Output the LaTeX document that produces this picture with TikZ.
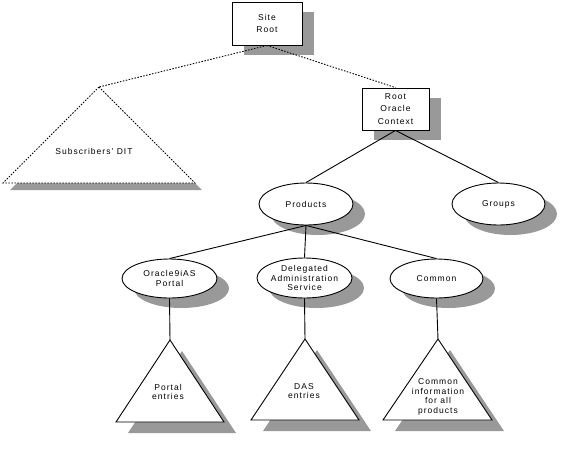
\documentclass[tikz,border=0pt]{standalone}
\usepackage{fontspec}
\setmainfont{Liberation Sans}[LetterSpace=12]
\usetikzlibrary{shapes.geometric,shadows}
\definecolor{shd}{HTML}{999999}
\begin{document}
\begin{tikzpicture}[x=1pt,y=-1pt,
  lbl/.style={font=\fontsize{8.5}{9.5}\selectfont, align=center, inner sep=0pt},
  shad/.style={drop shadow={shadow xshift=12pt, shadow yshift=-10pt, opacity=1, fill=shd}},
  boxnode/.style={draw, fill=white, line width=0.9pt, rectangle, align=center, inner sep=0pt,
     font=\fontsize{8.5}{12.5}\selectfont, shad},
  ellnode/.style={draw, fill=white, line width=0.9pt, ellipse, align=center, inner sep=0pt,
     font=\fontsize{8.5}{9.5}\selectfont, shad},
  ln/.style={line width=0.9pt},
  dl/.style={line width=0.9pt, dash pattern=on 1.5pt off 1.5pt},
  ]
\useasboundingbox[fill=white] (0,0) rectangle (573,448);

% triangle shadows
\fill[shd] (106,94) -- (202,190) -- (10,190) -- cycle;
\fill[shd] (182,351) -- (236,433) -- (128,433) -- cycle;
\fill[shd] (317,350) -- (371,431) -- (263,431) -- cycle;
\fill[shd] (450,350) -- (504,431) -- (395,431) -- cycle;

% triangles
\coordinate (subtop) at (99,87);
\coordinate (ptop) at (170,340);
\coordinate (dtop) at (305,339);
\coordinate (ctop) at (438,339);
\draw[dl, fill=white] (subtop) -- (195,183) -- (3,183) -- cycle;
\draw[ln, fill=white] (ptop) -- (224,422) -- (116,422) -- cycle;
\draw[ln, fill=white] (dtop) -- (359,420) -- (251,420) -- cycle;
\draw[ln, fill=white] (ctop) -- (492,420) -- (383,420) -- cycle;

\node[lbl] (subtxt) at (94,151) {Subscribers' DIT};
\node[lbl] (ptxt) at (168,392) {Portal\\entries};
\node[lbl] (dtxt) at (304,391) {DAS\\entries};
\node[lbl] (ctxt) at (438,397) {Common\\information\\for all\\products};

% boxes
\node[boxnode, minimum width=70pt, minimum height=43pt] (site) at (267,23.5) {Site\\Root};
\node[boxnode, minimum width=67pt, minimum height=42pt] (roc) at (395.5,109) {Root\\Oracle\\Context};

% ellipses
\node[ellnode, minimum width=94pt, minimum height=42pt] (prod) at (306,204) {Products};
\node[ellnode, minimum width=93pt, minimum height=42pt] (grp) at (498.5,204) {Groups};
\node[ellnode, minimum width=95pt, minimum height=39pt] (portal) at (169.5,278.5) {Oracle9iAS\\Portal};
\node[ellnode, minimum width=95pt, minimum height=40pt] (das) at (304.5,278) {Delegated\\Administration\\Service};
\node[ellnode, minimum width=93pt, minimum height=39pt] (comm) at (436.5,278.5) {Common};

% connectors
\draw[dl] (site.south) -- (subtop);
\draw[dl] (site.south) -- (roc.north);
\draw[ln] (roc.south) -- (prod.north);
\draw[ln] (roc.south) -- (grp.north);
\draw[ln] (prod.south) -- (portal.north);
\draw[ln] (prod.south) -- (das.north);
\draw[ln] (prod.south) -- (comm.north);
\draw[ln] (portal.south) -- (ptop);
\draw[ln] (das.south) -- (dtop);
\draw[ln] (comm.south) -- (ctop);
\end{tikzpicture}
\end{document}
